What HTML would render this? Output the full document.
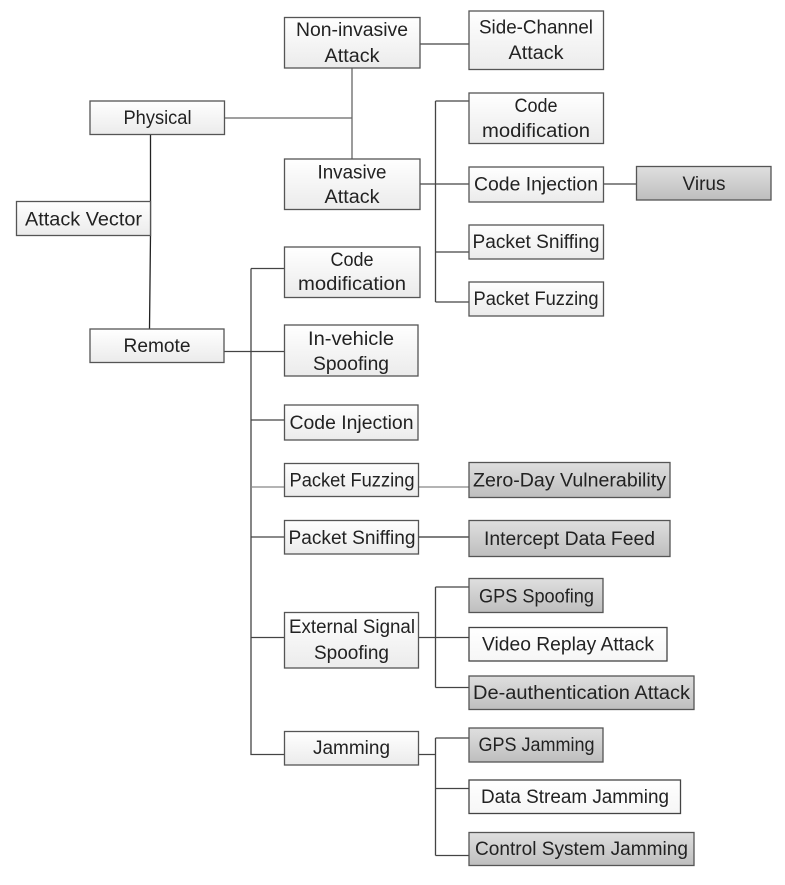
<!DOCTYPE html>
<html>
<head>
<meta charset="utf-8">
<style>
html,body{margin:0;padding:0;background:#fff;width:785px;height:885px;overflow:hidden}
svg{display:block}
text{font-family:"Liberation Sans",sans-serif;font-size:19px;fill:#222;text-anchor:middle}
.l{fill:url(#lg);stroke:#555;stroke-width:1.3}
.d{fill:url(#dg);stroke:#555;stroke-width:1.3}
.w{fill:url(#wg);stroke:#444;stroke-width:1.3}
.c{stroke:#444;stroke-width:1.3;fill:none}
</style>
</head>
<body>
<svg width="785" height="885" viewBox="0 0 785 885" xmlns="http://www.w3.org/2000/svg">
<defs>
<linearGradient id="lg" x1="0" y1="0" x2="0" y2="1"><stop offset="0" stop-color="#ffffff"/><stop offset="1" stop-color="#ebebeb"/></linearGradient>
<linearGradient id="dg" x1="0" y1="0" x2="0" y2="1"><stop offset="0" stop-color="#dfdfdf"/><stop offset="1" stop-color="#bebebe"/></linearGradient>
<linearGradient id="wg" x1="0" y1="0" x2="0" y2="1"><stop offset="0" stop-color="#ffffff"/><stop offset="1" stop-color="#f6f6f6"/></linearGradient>
</defs>

<!-- connectors -->
<path class="c" style="stroke:#666" d="M224.5 118H352M352 68V159"/>
<path class="c" d="M420 44H469"/>
<path class="c" style="stroke:#222" d="M150.5 134.5L150.5 235.5L149.5 329"/>
<path class="c" d="M420 184H469M435.5 101V302M435.5 101H469M435.5 252H469M435.5 302H469M603.5 184H636.5"/>
<path class="c" d="M251 268.5V754.5H284.5M251 268.5H284.5M224 351.5H284.5M251 420H284.5M251 537H284.5M251 637.5H284.5"/>
<path class="c" style="stroke:#888" d="M251 487H284.5M418.5 487H469"/>
<path class="c" style="stroke:#333" d="M418.5 537H469"/>
<path class="c" d="M418.5 637.5H469M435.5 587V687.5M435.5 587H469M435.5 687.5H469"/>
<path class="c" d="M418.5 754.5H436M435.5 738V855.5M435.5 738H469M435.5 788.5H469M435.5 855.5H469"/>

<!-- boxes -->
<rect class="l" x="284.5" y="17.5" width="135.5" height="50.5"/>
<rect class="l" x="469" y="11" width="134.5" height="58.5"/>
<rect class="l" x="90" y="101" width="134.5" height="33.5"/>
<rect class="l" x="16.5" y="201.5" width="134" height="34"/>
<rect class="l" x="284.5" y="159" width="135.5" height="50.5"/>
<rect class="l" x="469" y="93" width="134.5" height="50.5"/>
<rect class="l" x="469" y="167" width="134.5" height="35"/>
<rect class="d" x="636.5" y="166.5" width="134.5" height="33.5"/>
<rect class="l" x="469" y="225" width="134.5" height="34"/>
<rect class="l" x="469" y="282" width="134.5" height="34"/>
<rect class="l" x="284.5" y="247" width="135.5" height="50.5"/>
<rect class="l" x="90" y="329" width="134" height="33.5"/>
<rect class="l" x="284.5" y="325" width="133.5" height="51"/>
<rect class="l" x="284.5" y="405" width="133.5" height="35"/>
<rect class="l" x="284.5" y="463.5" width="134" height="33"/>
<rect class="d" x="469" y="462.5" width="201" height="35"/>
<rect class="l" x="284.5" y="520.5" width="134" height="33.5"/>
<rect class="d" x="469" y="520.5" width="201" height="36"/>
<rect class="d" x="469" y="578.5" width="134" height="34"/>
<rect class="l" x="284.5" y="612.5" width="134" height="55.5"/>
<rect class="w" x="469" y="627.5" width="198" height="33.5"/>
<rect class="d" x="469" y="676" width="225" height="33.5"/>
<rect class="l" x="284.5" y="731.5" width="134" height="33.5"/>
<rect class="d" x="469" y="728" width="134" height="34"/>
<rect class="w" x="469" y="780" width="211.5" height="33.5"/>
<rect class="d" x="469" y="832.5" width="225" height="33"/>

<!-- labels -->
<text x="352" y="36" textLength="112" lengthAdjust="spacingAndGlyphs">Non-invasive</text>
<text x="352" y="62" textLength="55" lengthAdjust="spacingAndGlyphs">Attack</text>
<text x="536" y="33.5" textLength="114" lengthAdjust="spacingAndGlyphs">Side-Channel</text>
<text x="536" y="59" textLength="55" lengthAdjust="spacingAndGlyphs">Attack</text>
<text x="157.5" y="124" textLength="68" lengthAdjust="spacingAndGlyphs">Physical</text>
<text x="83.5" y="225.5" textLength="117" lengthAdjust="spacingAndGlyphs">Attack Vector</text>
<text x="352" y="178.5" textLength="69" lengthAdjust="spacingAndGlyphs">Invasive</text>
<text x="352" y="203" textLength="55" lengthAdjust="spacingAndGlyphs">Attack</text>
<text x="536" y="112" textLength="43" lengthAdjust="spacingAndGlyphs">Code</text>
<text x="536" y="137" textLength="108" lengthAdjust="spacingAndGlyphs">modification</text>
<text x="536" y="190.5" textLength="124" lengthAdjust="spacingAndGlyphs">Code Injection</text>
<text x="704" y="190" textLength="43" lengthAdjust="spacingAndGlyphs">Virus</text>
<text x="536" y="248" textLength="127" lengthAdjust="spacingAndGlyphs">Packet Sniffing</text>
<text x="536" y="305" textLength="125" lengthAdjust="spacingAndGlyphs">Packet Fuzzing</text>
<text x="352" y="266" textLength="43" lengthAdjust="spacingAndGlyphs">Code</text>
<text x="352" y="290" textLength="108" lengthAdjust="spacingAndGlyphs">modification</text>
<text x="157" y="352" textLength="67" lengthAdjust="spacingAndGlyphs">Remote</text>
<text x="351" y="345" textLength="86" lengthAdjust="spacingAndGlyphs">In-vehicle</text>
<text x="351" y="370" textLength="76" lengthAdjust="spacingAndGlyphs">Spoofing</text>
<text x="351.5" y="429" textLength="124" lengthAdjust="spacingAndGlyphs">Code Injection</text>
<text x="352" y="486.5" textLength="125" lengthAdjust="spacingAndGlyphs">Packet Fuzzing</text>
<text x="569.5" y="486.5" textLength="193" lengthAdjust="spacingAndGlyphs">Zero-Day Vulnerability</text>
<text x="352" y="544" textLength="127" lengthAdjust="spacingAndGlyphs">Packet Sniffing</text>
<text x="569.5" y="545" textLength="171" lengthAdjust="spacingAndGlyphs">Intercept Data Feed</text>
<text x="536.5" y="602.5" textLength="115" lengthAdjust="spacingAndGlyphs">GPS Spoofing</text>
<text x="352" y="633" textLength="126" lengthAdjust="spacingAndGlyphs">External Signal</text>
<text x="351.5" y="659" textLength="75" lengthAdjust="spacingAndGlyphs">Spoofing</text>
<text x="568" y="650.5" textLength="172" lengthAdjust="spacingAndGlyphs">Video Replay Attack</text>
<text x="581.5" y="699" textLength="217" lengthAdjust="spacingAndGlyphs">De-authentication Attack</text>
<text x="351.5" y="754" textLength="77" lengthAdjust="spacingAndGlyphs">Jamming</text>
<text x="536.5" y="751" textLength="116" lengthAdjust="spacingAndGlyphs">GPS Jamming</text>
<text x="575" y="803" textLength="188" lengthAdjust="spacingAndGlyphs">Data Stream Jamming</text>
<text x="581.5" y="855" textLength="213" lengthAdjust="spacingAndGlyphs">Control System Jamming</text>
</svg>
</body>
</html>
